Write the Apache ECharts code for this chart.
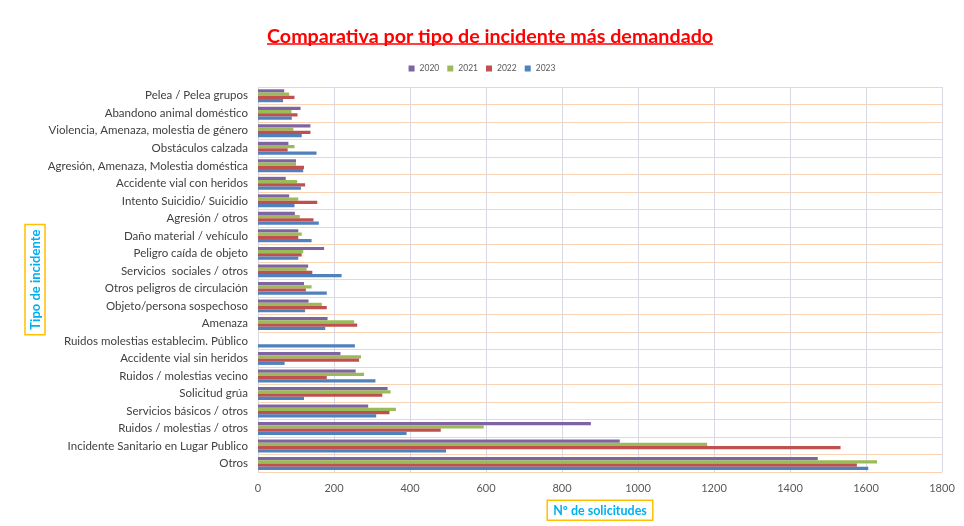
<!DOCTYPE html>
<html>
<head>
<meta charset="utf-8">
<title>Comparativa por tipo de incidente</title>
<script src="https://cdn.jsdelivr.net/npm/echarts@6/dist/echarts.min.js"></script>
<style>
  html, body { margin: 0; padding: 0; background: #fff; }
  #chart { width: 964px; height: 526px; }
</style>
</head>
<body>
<div id="chart"></div>
<script>
// categorias, de abajo (Otros) hacia arriba
var categorias = [
    'Otros',
    'Incidente Sanitario en Lugar Publico',
    'Ruidos / molestias / otros',
    'Servicios básicos / otros',
    'Solicitud grúa',
    'Ruidos / molestias vecino',
    'Accidente vial sin heridos',
    'Ruidos molestias establecim. Público',
    'Amenaza',
    'Objeto/persona sospechoso',
    'Otros peligros de circulación',
    'Servicios  sociales / otros',
    'Peligro caída de objeto',
    'Daño material / vehículo',
    'Agresión / otros',
    'Intento Suicidio/ Suicidio',
    'Accidente vial con heridos',
    'Agresión, Amenaza, Molestia doméstica',
    'Obstáculos calzada',
    'Violencia, Amenaza, molestia de género',
    'Abandono animal doméstico',
    'Pelea / Pelea grupos'
];

var anios = ['2020', '2021', '2022', '2023'];

var datos2020 = [1473, 952, 876, 290, 341, 257, 217, null, 183, 133, 121, 132, 174, 106, 97, 82, 73, 100, 80, 138, 112, 69];
var datos2021 = [1629, 1182, 594, 363, 349, 279, 271, null, 253, 168, 141, 128, 119, 115, 110, 106, 103, 100, 96, 93, 88, 82];
var datos2022 = [1576, 1533, 481, 346, 327, 181, 266, null, 261, 181, 126, 143, 115, 106, 146, 156, 124, 121, 78, 138, 104, 96];
var datos2023 = [1606, 495, 391, 311, 121, 309, 70, 255, 177, 124, 181, 220, 106, 141, 160, 96, 113, 119, 154, 115, 89, 66];

var ticksX = { min: 0, max: 1800, interval: 200 };

var colores = ['#8064a2', '#9bbb59', '#c0504d', '#4f81bd'];

(function(){
    var myChart = echarts.init(document.getElementById('chart'));
    var series = [datos2020, datos2021, datos2022, datos2023].map(function(d, i){
        return {
            name: anios[i],
            type: 'bar',
            data: d,
            barGap: '0%',
            barCategoryGap: '26%',
            itemStyle: { color: colores[i] }
        };
    });

    var option = {
        backgroundColor: '#ffffff',
        textStyle: { fontFamily: 'Lato' },
        title: {
            text: 'Comparativa por tipo de incidente más demandado',
            left: 262,
            top: 22,
            textStyle: {
                color: '#ff0000',
                fontSize: 19.7,
                fontWeight: 'bold',
                fontFamily: 'Lato'
            }
        },
        graphic: [{
            type: 'line',
            shape: { x1: 267, y1: 44, x2: 713, y2: 44 },
            style: { stroke: '#ff0000', lineWidth: 1.5 }
        }],
        legend: {
            data: anios,
            top: 59,
            left: 'center',
            itemWidth: 6,
            itemHeight: 6,
            itemGap: 8,
            icon: 'rect',
            textStyle: { color: '#595959', fontSize: 8.5 }
        },
        grid: {
            left: 258,
            right: 22,
            top: 87,
            bottom: 49
        },
        xAxis: {
            type: 'value',
            min: ticksX.min,
            max: ticksX.max,
            interval: ticksX.interval,
            name: 'Nº de solicitudes',
            nameLocation: 'middle',
            nameGap: 28,
            nameTextStyle: {
                color: '#00b0f0',
                fontWeight: 'bold',
                fontSize: 12.5,
                borderColor: '#ffc000',
                borderWidth: 1.5,
                padding: [4, 6, 3, 6]
            },
            axisLine: { show: false },
            axisTick: { show: false },
            axisLabel: {
                color: '#595959',
                fontSize: 11,
                margin: 11,
                formatter: function(v){ return String(v); }
            },
            splitLine: {
                show: true,
                lineStyle: { color: '#d9d9e3', width: 1 }
            }
        },
        yAxis: {
            type: 'category',
            data: categorias,
            name: 'Tipo de incidente',
            nameLocation: 'middle',
            nameRotate: 90,
            nameGap: 213,
            nameMoveOverlap: false,
            nameTextStyle: {
                color: '#00b0f0',
                fontWeight: 'bold',
                fontSize: 13,
                borderColor: '#ffc000',
                borderWidth: 1.5,
                padding: [4, 5, 3, 5]
            },
            axisLine: { show: true, lineStyle: { color: '#d9d9e3' } },
            axisTick: { show: false },
            axisLabel: { color: '#404040', fontSize: 11.5, margin: 10 },
            splitLine: {
                show: true,
                lineStyle: { color: '#fad2b4', width: 1 }
            }
        },
        series: series
    };
    myChart.setOption(option);
    window.addEventListener('resize', function(){
        myChart.resize();
    });
})();
</script>
</body>
</html>
